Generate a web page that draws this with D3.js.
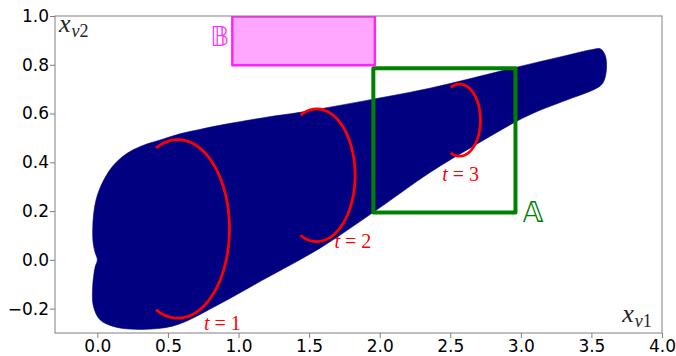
<!DOCTYPE html>
<html>
<head>
<meta charset="utf-8">
<script src="https://cdn.jsdelivr.net/npm/d3@7"></script>
<style>
body { margin: 0; background: #fff; }
svg { display: block; }
.tick text { font-family: "DejaVu Sans", sans-serif; font-size: 17px; fill: #000; }
.tick line { stroke: #808080; }
.math { font-family: "Liberation Serif", "DejaVu Serif", serif; }
</style>
</head>
<body>
<svg id="chart"></svg>
<script>
// outline of the reachable tube (x_v1, x_v2)
const tubeTop = [[-0.033, 0.123], [-0.027, 0.185], [-0.009, 0.246], [0.019, 0.295], [0.062, 0.345],
  [0.111, 0.386], [0.175, 0.422], [0.253, 0.451], [0.345, 0.474], [0.458, 0.494], [0.586, 0.517],
  [0.727, 0.535], [0.869, 0.552], [1.2, 0.585], [1.436, 0.605], [1.955, 0.659], [2.356, 0.704],
  [2.97, 0.79], [3.3, 0.835], [3.51, 0.863]];
const tubeCap = [[3.565, 0.865], [3.597, 0.84], [3.607, 0.788], [3.59, 0.735], [3.56, 0.712]];
const tubeBottom = [[3.3, 0.65], [3.13, 0.612], [2.97, 0.568], [2.66, 0.465], [2.356, 0.358],
  [1.955, 0.195], [1.577, 0.048], [1.174, -0.082], [0.869, -0.18], [0.586, -0.262],
  [0.444, -0.281], [0.232, -0.284], [0.113, -0.273], [0.019, -0.246], [-0.028, -0.19],
  [-0.033, -0.11], [-0.016, -0.03], [0.0, 0.0], [-0.016, 0.03], [-0.03, 0.07]];

// reachable sets at t = 1, 2, 3 (circles in data units, right part drawn)
const arcTimes = [1, 2, 3];
const arcCenters = [[0.57, 0.127], [1.554, 0.347], [2.566, 0.573]];
const arcRadii = [0.366, 0.272, 0.148];
const arcLabelPos = [[0.755, -0.287], [1.68, 0.049], [2.443, 0.322]];

// target boxes
const boxA = { x0: 1.955, x1: 2.962, y0: 0.194, y1: 0.786 };
const boxB = { x0: 0.956, x1: 1.966, y0: 0.798, y1: 0.998 };

const xTicks = [0.0, 0.5, 1.0, 1.5, 2.0, 2.5, 3.0, 3.5, 4.0];
const yTicks = [-0.2, 0.0, 0.2, 0.4, 0.6, 0.8, 1.0];

const W = 676, H = 356;
const margin = { top: 16, right: 14, bottom: 23, left: 55 };

const x = d3.scaleLinear().domain([-0.3, 4.0]).range([margin.left, W - margin.right]);
const y = d3.scaleLinear().domain([-0.3, 1.0]).range([H - margin.bottom, margin.top]);

const svg = d3.select("#chart").attr("width", W).attr("height", H);

svg.append("defs").append("clipPath").attr("id", "plot")
  .append("rect")
  .attr("x", margin.left).attr("y", margin.top)
  .attr("width", W - margin.left - margin.right)
  .attr("height", H - margin.top - margin.bottom);

const plot = svg.append("g").attr("clip-path", "url(#plot)");

const outline = tubeTop.concat(tubeCap, tubeBottom);
plot.append("path")
  .datum(outline)
  .attr("d", d3.line().x(d => x(d[0])).y(d => y(d[1])).curve(d3.curveCatmullRomClosed))
  .attr("fill", "#000080")
  .attr("stroke", "#000088")
  .attr("stroke-width", 0.6);

// red arcs
const span = 115 * Math.PI / 180;
arcCenters.forEach((c, i) => {
  const pts = d3.range(-span, span + 1e-9, span / 60)
    .map(a => [c[0] + arcRadii[i] * Math.cos(a), c[1] + arcRadii[i] * Math.sin(a)]);
  plot.append("path")
    .datum(pts)
    .attr("d", d3.line().x(d => x(d[0])).y(d => y(d[1])))
    .attr("fill", "none")
    .attr("stroke", "#ff0000")
    .attr("stroke-width", 2.8);

  const t = plot.append("text").attr("class", "math")
    .attr("x", x(arcLabelPos[i][0])).attr("y", y(arcLabelPos[i][1]))
    .attr("fill", "#ff0000").attr("font-size", 20);
  t.append("tspan").attr("font-style", "italic").text("t");
  t.append("tspan").attr("dx", 5).text("=");
  t.append("tspan").attr("dx", 5).text(arcTimes[i]);
});

// box A
plot.append("rect")
  .attr("x", x(boxA.x0)).attr("y", y(boxA.y1))
  .attr("width", x(boxA.x1) - x(boxA.x0)).attr("height", y(boxA.y0) - y(boxA.y1))
  .attr("fill", "none").attr("stroke", "#008000").attr("stroke-width", 4)
  .attr("stroke-linejoin", "round");

// box B
plot.append("rect")
  .attr("x", x(boxB.x0)).attr("y", y(boxB.y1))
  .attr("width", x(boxB.x1) - x(boxB.x0)).attr("height", y(boxB.y0) - y(boxB.y1))
  .attr("fill", "#ffa6ff").attr("stroke", "#ff22ff").attr("stroke-width", 2.4)
  .attr("stroke-linejoin", "round");

plot.append("text")
  .attr("x", x(3.013)).attr("y", y(0.157))
  .attr("font-family", "DejaVu Sans, DejaVu Serif, serif")
  .attr("font-size", 28).attr("fill", "#008000")
  .text("\u{1D538}");

plot.append("text")
  .attr("x", x(0.935)).attr("y", y(0.875))
  .attr("text-anchor", "end")
  .attr("font-family", "DejaVu Sans, DejaVu Serif, serif")
  .attr("font-size", 26).attr("fill", "#ff33ff")
  .text("\u{1D539}");

// axis name labels inside the frame
function axisName(px, py, sub) {
  const t = svg.append("text").attr("class", "math")
    .attr("x", px).attr("y", py).attr("fill", "#262626").attr("font-size", 26);
  t.append("tspan").attr("font-style", "italic").text("x");
  t.append("tspan").attr("font-size", 18).attr("dy", 5).attr("dx", 1)
    .attr("font-style", "italic").text("v");
  t.append("tspan").attr("font-size", 18).text(sub);
}
axisName(x(-0.272), y(0.934), "2");
axisName(x(3.718), y(-0.254), "1");

// axes
const fmt = d3.format(".1f");
svg.append("g")
  .attr("transform", `translate(0,${H - margin.bottom})`)
  .call(d3.axisBottom(x).tickValues(xTicks).tickFormat(fmt).tickSize(5).tickPadding(2))
  .call(g => g.select(".domain").remove());

svg.append("g")
  .attr("transform", `translate(${margin.left},0)`)
  .call(d3.axisLeft(y).tickValues(yTicks).tickFormat(fmt).tickSize(5).tickPadding(1))
  .call(g => g.select(".domain").remove());

svg.append("rect")
  .attr("x", margin.left).attr("y", margin.top)
  .attr("width", W - margin.left - margin.right)
  .attr("height", H - margin.top - margin.bottom)
  .attr("fill", "none").attr("stroke", "#808080").attr("stroke-width", 1);
</script>
</body>
</html>
